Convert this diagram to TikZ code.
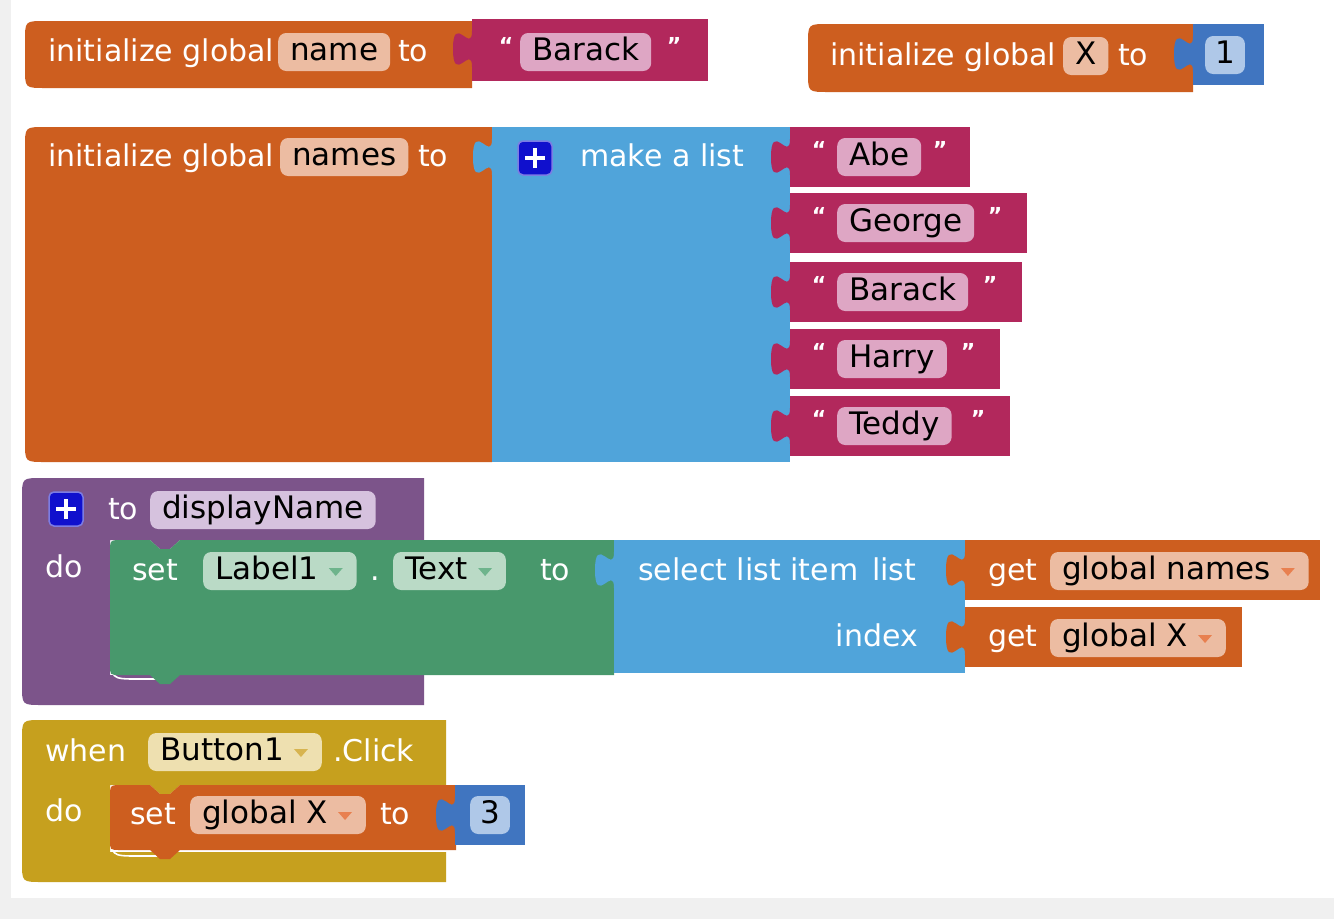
\documentclass[tikz,border=0pt]{standalone}
\usepackage{fontspec}
\setmainfont{DejaVu Sans}
\definecolor{varO}{RGB}{205,94,31}
\definecolor{varPill}{RGB}{236,188,162}
\definecolor{varArrow}{RGB}{232,128,80}
\definecolor{txtM}{RGB}{178,40,92}
\definecolor{txtPill}{RGB}{222,166,196}
\definecolor{lstB}{RGB}{80,164,218}
\definecolor{numB}{RGB}{64,117,192}
\definecolor{numPill}{RGB}{175,200,232}
\definecolor{procP}{RGB}{124,84,138}
\definecolor{procPill}{RGB}{214,194,222}
\definecolor{cmpG}{RGB}{72,152,108}
\definecolor{cmpPill}{RGB}{186,218,198}
\definecolor{cmpArrow}{RGB}{110,180,140}
\definecolor{evtY}{RGB}{198,160,30}
\definecolor{evtPill}{RGB}{238,224,176}
\definecolor{evtArrow}{RGB}{215,180,80}
\definecolor{plusB}{RGB}{16,16,205}
\definecolor{bgG}{RGB}{240,240,240}
\newcommand{\wfont}{\fontsize{30}{36}\selectfont}
\newcommand{\pfont}{\fontsize{31}{36}\selectfont}
% rectangle with rounded left corners
\newcommand{\lrect}[6]{\fill[#1] (#4,#3) -- (#2+#6,#3) .. controls (#2,#3) .. (#2,#3+#6) -- (#2,#5-#6) .. controls (#2,#5) .. (#2+#6,#5) -- (#4,#5) -- cycle;}
% output tab of a value block, left edge x, top y
\newcommand{\tabat}[3]{\fill[#1] (#2,#3+12) .. controls (#2,#3+36) and (#2-19,#3-7) .. (#2-19,#3+30) .. controls (#2-19,#3+67) and (#2,#3+24) .. (#2,#3+48) -- cycle;}
% statement block with top notch and bottom bump
\newcommand{\stmt}[5]{\fill[#1] (#4,#3) -- (#2+70,#3) -- (#2+60,#3+9) -- (#2+50,#3+9) -- (#2+40,#3) -- (#2+12,#3) .. controls (#2,#3) .. (#2,#3+12) -- (#2,#5-10) .. controls (#2,#5) .. (#2+10,#5) -- (#2+40,#5) -- (#2+50,#5+9) -- (#2+60,#5+9) -- (#2+70,#5) -- (#4,#5) -- cycle;}
% dropdown arrow at right end of a pill node
\newcommand{\ddarrow}[2]{\fill[#1] ([xshift=-28pt,yshift=3pt]#2.east) -- ++(14,0) -- ++(-7,8) -- cycle;}
\begin{document}
\begin{tikzpicture}[x=1pt,y=-1pt,
  lbl/.style={text=white, font=\wfont, inner sep=0pt, anchor=west, text height=22pt, text depth=6pt},
  pill/.style={fill=#1, rounded corners=8pt, font=\pfont, text=black, inner xsep=12pt, inner ysep=0pt, anchor=west, text height=24pt, text depth=7pt, minimum height=38pt},
  quo/.style={text=white, font=\fontsize{22}{22}\selectfont\bfseries, inner sep=0pt},
  plusicon/.style={fill=plusB, draw=plusB!55!white, line width=1.5pt, rounded corners=5pt, minimum size=34pt, inner sep=0pt,
    path picture={\draw[white,line width=3.5pt] ([xshift=-10pt]path picture bounding box.center) -- ([xshift=10pt]path picture bounding box.center);
                  \draw[white,line width=3.5pt] ([yshift=-10pt]path picture bounding box.center) -- ([yshift=10pt]path picture bounding box.center);}}
]
\useasboundingbox (0,0) rectangle (1334,919);
\fill[bgG] (0,0) rectangle (1334,919);
\fill[white] (11,0) rectangle (1334,898);

% ---- initialize global name
\lrect{varO}{25}{21}{472}{88}{20}
\fill[txtM] (472,19) rectangle (708,81);
\tabat{txtM}{472}{19}
\node[lbl] (t1) at (48,53) {initialize global};
\node[pill=varPill] (n1) at (278,52) {name};
\node[lbl] (t1b) at (398,53) {to};
\node[quo] (q1a) at (506,45) {“};
\node[pill=txtPill] (s0) at (520,52) {Barack};
\node[quo] (q1b) at (674,45) {”};

% ---- initialize global X
\lrect{varO}{808}{24}{1193}{92}{20}
\fill[numB] (1193,24) rectangle (1264,85);
\tabat{numB}{1193}{24}
\node[lbl] (t2) at (830,57) {initialize global};
\node[pill=varPill] (n2) at (1063,56) {X};
\node[lbl] (t2b) at (1118,57) {to};
\node[pill=numPill, inner xsep=10pt] (v1) at (1205,55) {1};

% ---- initialize global names
\lrect{varO}{25}{127}{492}{462}{20}
\node[lbl] (t3) at (48,158) {initialize global};
\node[pill=varPill] (n3) at (280,157) {names};
\node[lbl] (t3b) at (418,158) {to};
\fill[lstB] (492,127) rectangle (790,462);
\tabat{lstB}{492}{127}
\node[plusicon] (pl1) at (535,158) {};
\node[lbl] (ml) at (580,158) {make a list};
\foreach \yt/\rx/\txt/\qx/\nm in {127/970/Abe/940/sa, 193/1027/George/995/sb, 262/1022/Barack/990/sc, 329/1000/Harry/968/sd, 396/1010/Teddy/978/se}{
  \fill[txtM] (790,\yt) rectangle (\rx,\yt+60);
  \tabat{txtM}{790}{\yt}
  \node[quo] (\nm qa) at (819,\yt+22) {“};
  \node[pill=txtPill] (\nm) at (837,\yt+30) {\txt};
  \node[quo] (\nm qb) at (\qx,\yt+22) {”};
}

% ---- procedure displayName
\fill[procP] (424,478) -- (42,478) .. controls (22,478) .. (22,498) -- (22,685) .. controls (22,705) .. (42,705) -- (424,705) -- (424,675) -- (110,675) -- (110,540) -- (150,540) -- (160,549) -- (170,549) -- (180,540) -- (424,540) -- cycle;
\draw[white, line width=1.6pt] (111,652) .. controls (111,679) .. (138,679) -- (160,679);
\node[plusicon] (pl2) at (66,509) {};
\node[lbl] (t4) at (108,511) {to};
\node[pill=procPill] (pn) at (150,510) {displayName};
\node[lbl] (t4b) at (45,569) {do};
\stmt{cmpG}{110}{540}{614}{675}
\node[lbl] (t5) at (132,572) {set};
\node[pill=cmpPill] (lab) at (203,571) {Label1\kern26pt};
\ddarrow{cmpArrow}{lab}
\node[lbl] (t5b) at (370,572) {.};
\node[pill=cmpPill] (txp) at (393,571) {Text\kern26pt};
\ddarrow{cmpArrow}{txp}
\node[lbl] (t5c) at (540,572) {to};
\fill[lstB] (614,540) rectangle (965,673);
\tabat{lstB}{614}{540}
\node[lbl] (t6) at (638,572) {select list item\kern14pt list};
\node[lbl, anchor=east] (t6b) at (918,638) {index};
\fill[varO] (965,540) rectangle (1320,600);
\tabat{varO}{965}{540}
\node[lbl] (t7) at (988,572) {get};
\node[pill=varPill] (gn) at (1050,571) {global names\kern26pt};
\ddarrow{varArrow}{gn}
\fill[varO] (965,607) rectangle (1242,667);
\tabat{varO}{965}{607}
\node[lbl] (t8) at (988,638) {get};
\node[pill=varPill] (gx) at (1050,638) {global X\kern26pt};
\ddarrow{varArrow}{gx}

% ---- when Button1.Click
\fill[evtY] (446,720) -- (42,720) .. controls (22,720) .. (22,740) -- (22,862) .. controls (22,882) .. (42,882) -- (446,882) -- (446,852) -- (110,852) -- (110,785) -- (150,785) -- (160,794) -- (170,794) -- (180,785) -- (446,785) -- cycle;
\draw[white, line width=1.6pt] (111,830) .. controls (111,856) .. (138,856) -- (160,856);
\node[lbl] (t9) at (45,753) {when};
\node[pill=evtPill] (bt) at (148,752) {Button1\kern26pt};
\ddarrow{evtArrow}{bt}
\node[lbl] (t9b) at (333,753) {.Click};
\node[lbl] (t9c) at (45,813) {do};
\stmt{varO}{110}{785}{456}{850}
\node[lbl] (t10) at (130,816) {set};
\node[pill=varPill] (sx) at (190,815) {global X\kern26pt};
\ddarrow{varArrow}{sx}
\node[lbl] (t10b) at (380,816) {to};
\fill[numB] (455,785) rectangle (525,845);
\tabat{numB}{455}{785}
\node[pill=numPill, inner xsep=10pt] (v3) at (470,815) {3};
\end{tikzpicture}
\end{document}
